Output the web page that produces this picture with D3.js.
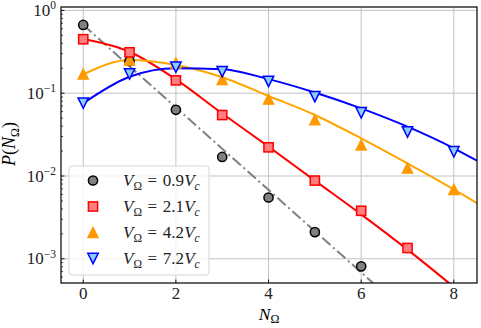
<!DOCTYPE html>
<html>
<head>
<meta charset="utf-8">
<script src="https://cdn.jsdelivr.net/npm/d3@7/dist/d3.min.js"></script>
<style>
  html, body { margin: 0; padding: 0; background: #fff; }
  svg { display: block; }
  text { font-family: "Liberation Serif", "DejaVu Serif", serif; }
</style>
</head>
<body>
<svg id="chart" width="481" height="328"></svg>
<script>
// Photon-number distributions P(N_Ω) for four drive strengths
const nValues = [0, 1, 2, 3, 4, 5, 6, 7, 8];
const seriesLabels = ["0.9", "2.1", "4.2", "7.2"];

// measured points
const pointsV09 = [0.668, 0.245, 0.063, 0.017, 0.0055, 0.0021, 0.00081];
const pointsV21 = [0.449, 0.312, 0.143, 0.0545, 0.0222, 0.0088, 0.0038, 0.00135];
const pointsV42 = [0.171, 0.252, 0.232, 0.147, 0.085, 0.048, 0.0238, 0.0125, 0.0069];
const pointsV72 = [0.076, 0.171, 0.206, 0.182, 0.139, 0.091, 0.058, 0.034, 0.0196];

// model curves
const fitNGeom = [0, 6.5];
const fitV09 = [0.667, 0.000386];
const fitN = [0, 1, 2, 3, 4, 5, 6, 7, 8, 8.5];
const fitV21 = [0.452, 0.317, 0.147, 0.0569, 0.0226, 0.0088, 0.00344, 0.00129, 0.000457, 0.00027];
const fitV42 = [0.169, 0.252, 0.219, 0.156, 0.0925, 0.0546, 0.0285, 0.0142, 0.0069, 0.0047];
const fitV72 = [0.0755, 0.158, 0.200, 0.195, 0.148, 0.102, 0.0656, 0.0394, 0.0216, 0.0153];

const xTicks = [0, 2, 4, 6, 8];
const yTickExps = [0, -1, -2, -3];

const svg = d3.select("#chart");
const pL = 61, pR = 477, pT = 7, pB = 283;

const x = d3.scaleLinear().domain([-0.48, 8.5]).range([pL, pR]);
const y = d3.scaleLog().domain([5.1e-4, 1.1]).range([pB, pT]);

svg.append("defs").append("clipPath").attr("id", "plotclip")
  .append("rect").attr("x", pL).attr("y", pT)
  .attr("width", pR - pL).attr("height", pB - pT);

// grid
const grid = svg.append("g").attr("stroke", "#b0b0b0").attr("stroke-width", 1).attr("opacity", 0.75);
xTicks.forEach(t => grid.append("line").attr("x1", x(t)).attr("x2", x(t)).attr("y1", pT).attr("y2", pB));
yTickExps.forEach(e => grid.append("line").attr("x1", pL).attr("x2", pR).attr("y1", y(Math.pow(10, e))).attr("y2", y(Math.pow(10, e))));

const plot = svg.append("g").attr("clip-path", "url(#plotclip)");

const line = d3.line().x(d => x(d[0])).y(d => y(d[1]));
const smooth = d3.line().x(d => x(d[0])).y(d => y(d[1])).curve(d3.curveMonotoneX);

const zip = (xs, ys) => ys.map((v, i) => [xs[i], v]);

plot.append("path").datum(zip(fitNGeom, fitV09)).attr("d", line)
  .attr("fill", "none").attr("stroke", "#808080").attr("stroke-width", 2)
  .attr("stroke-dasharray", "11,3.5,2,3.5");
plot.append("path").datum(zip(fitN, fitV21)).attr("d", smooth)
  .attr("fill", "none").attr("stroke", "#ff0000").attr("stroke-width", 2);
plot.append("path").datum(zip(fitN, fitV42)).attr("d", smooth)
  .attr("fill", "none").attr("stroke", "#ffa500").attr("stroke-width", 2);
plot.append("path").datum(zip(fitN, fitV72)).attr("d", smooth)
  .attr("fill", "none").attr("stroke", "#0000ff").attr("stroke-width", 2);

// marker drawing helpers
const markerStyles = [
  { shape: "circle", fill: "#808080", stroke: "#000000" },
  { shape: "square", fill: "#ff7f7f", stroke: "#ff0000" },
  { shape: "up", fill: "#ff9900", stroke: "#ff9900" },
  { shape: "down", fill: "#87cefa", stroke: "#0000ff" }
];
function drawMarker(g, cx, cy, st) {
  if (st.shape === "circle") {
    g.append("circle").attr("cx", cx).attr("cy", cy).attr("r", 4.6)
      .attr("fill", st.fill).attr("stroke", st.stroke).attr("stroke-width", 1.5);
  } else if (st.shape === "square") {
    g.append("rect").attr("x", cx - 4.6).attr("y", cy - 4.6).attr("width", 9.2).attr("height", 9.2)
      .attr("fill", st.fill).attr("stroke", st.stroke).attr("stroke-width", 1.5);
  } else if (st.shape === "up") {
    const h = 5.2;
    g.append("path").attr("d", `M${cx},${cy - h}L${cx - h},${cy + h}L${cx + h},${cy + h}Z`)
      .attr("fill", st.fill).attr("stroke", st.stroke).attr("stroke-width", 1.2);
  } else {
    const h = 5.2;
    g.append("path").attr("d", `M${cx},${cy + h}L${cx - h},${cy - h}L${cx + h},${cy - h}Z`)
      .attr("fill", st.fill).attr("stroke", st.stroke).attr("stroke-width", 1.5);
  }
}

const pointSets = [pointsV09, pointsV42, pointsV72, pointsV21];
const styleOrder = [0, 2, 3, 1];
pointSets.forEach((pts, k) => {
  const g = plot.append("g");
  pts.forEach((v, i) => drawMarker(g, x(nValues[i]), y(v), markerStyles[styleOrder[k]]));
});

// axes frame and ticks (pointing inward)
const ax = svg.append("g").attr("stroke", "#000");
xTicks.forEach(t => ax.append("line").attr("x1", x(t)).attr("x2", x(t)).attr("y1", pB).attr("y2", pB - 3.5).attr("stroke-width", 0.9));
yTickExps.forEach(e => ax.append("line").attr("x1", pL).attr("x2", pL + 3.5).attr("y1", y(Math.pow(10, e))).attr("y2", y(Math.pow(10, e))).attr("stroke-width", 0.9));
for (let e = -4; e <= 0; e++) {
  for (let m = 2; m <= 9; m++) {
    const v = m * Math.pow(10, e);
    if (v < y.domain()[0] || v > y.domain()[1]) continue;
    ax.append("line").attr("x1", pL).attr("x2", pL + 2).attr("y1", y(v)).attr("y2", y(v)).attr("stroke-width", 0.7);
  }
}
ax.append("rect").attr("x", pL).attr("y", pT).attr("width", pR - pL).attr("height", pB - pT)
  .attr("fill", "none").attr("stroke-width", 1.2);

// tick labels
const fs = 17;
xTicks.forEach(t => svg.append("text").attr("x", x(t)).attr("y", 299).attr("text-anchor", "middle")
  .attr("font-size", fs).attr("fill", "#222").text(t));
yTickExps.forEach(e => {
  const tx = svg.append("text").attr("x", 56).attr("y", y(Math.pow(10, e)) + 5.5).attr("text-anchor", "end")
    .attr("font-size", fs).attr("fill", "#222");
  tx.append("tspan").text("10");
  tx.append("tspan").attr("font-size", 11.5).attr("dy", -6.5).text(e === 0 ? "0" : "\u2212" + (-e));
});

// axis titles
const xl = svg.append("text").attr("x", 269).attr("y", 320).attr("text-anchor", "middle").attr("font-size", 17.5);
xl.append("tspan").attr("font-style", "italic").text("N");
xl.append("tspan").attr("font-size", 12).attr("dy", 3).text("\u03A9");

const yl = svg.append("text").attr("transform", "translate(15,144) rotate(-90)").attr("text-anchor", "middle").attr("font-size", 18);
yl.append("tspan").attr("font-style", "italic").text("P");
yl.append("tspan").text("(");
yl.append("tspan").attr("font-style", "italic").text("N");
yl.append("tspan").attr("font-size", 12).attr("dy", 3.5).text("\u03A9");
yl.append("tspan").attr("dy", -3.5).text(")");

// legend
const lg = svg.append("g");
lg.append("rect").attr("x", 69).attr("y", 166).attr("width", 140).attr("height", 109).attr("rx", 3)
  .attr("fill", "#fff").attr("fill-opacity", 0.8).attr("stroke", "#d6d6d6").attr("stroke-width", 1);
seriesLabels.forEach((lab, i) => {
  const cy = 180.5 + i * 26;
  drawMarker(lg, 93, cy, markerStyles[i]);
  const t = lg.append("text").attr("x", 123).attr("y", cy + 5.5).attr("font-size", 17).attr("fill", "#222");
  t.append("tspan").attr("font-style", "italic").text("V");
  t.append("tspan").attr("font-size", 11.5).attr("dy", 3.5).text("\u03A9");
  t.append("tspan").attr("dy", -3.5).text("\u2004=\u2004" + lab);
  t.append("tspan").attr("font-style", "italic").text("V");
  t.append("tspan").attr("font-style", "italic").attr("font-size", 11.5).attr("dy", 3.5).text("c");
});
</script>
</body>
</html>
